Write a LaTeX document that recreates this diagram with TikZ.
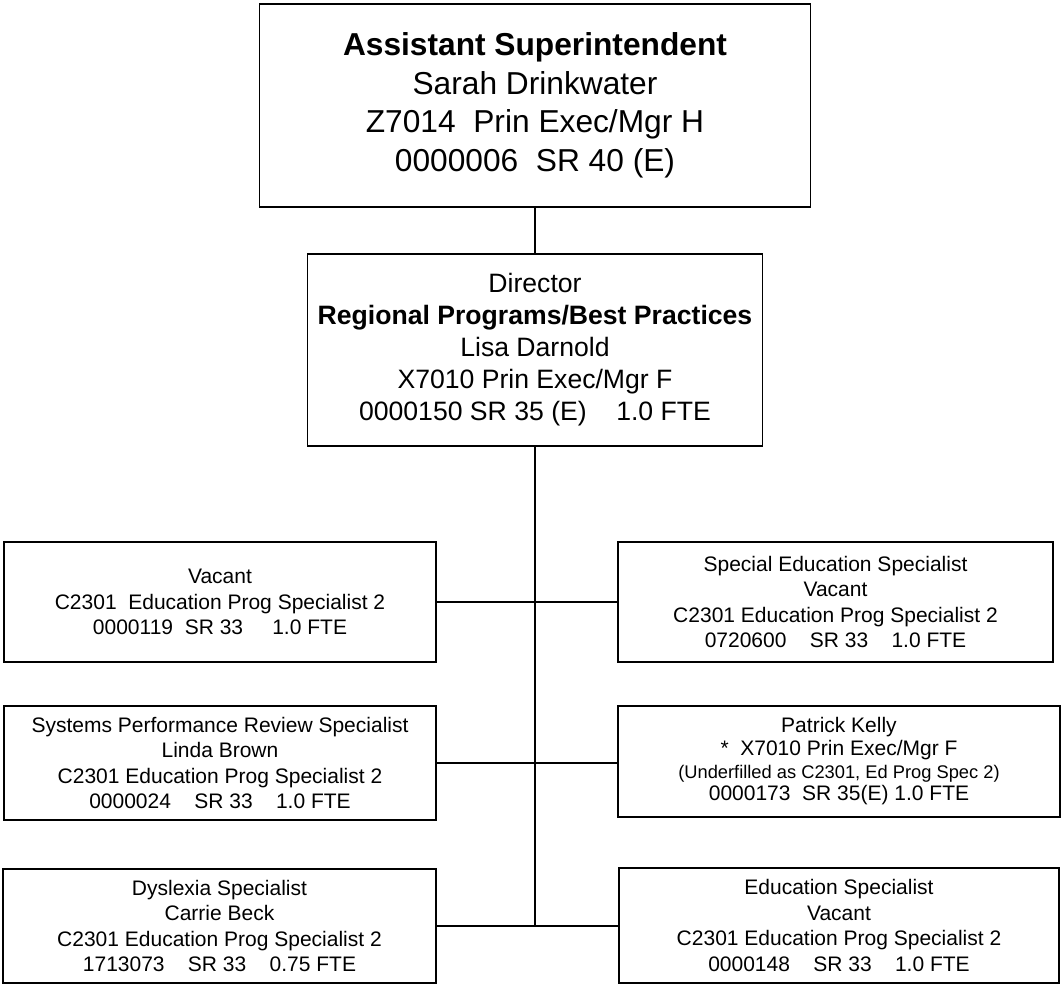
\documentclass[tikz,border=0pt]{standalone}
\usepackage{fontspec}
\setmainfont{Liberation Sans}
\usepackage{tikz}

\begin{document}
\begin{tikzpicture}[x=1pt,y=-1pt,
  post/.style={draw,line width=1.6pt,align=center,inner sep=0pt,
    font=\fontsize{21}{25.5}\selectfont},
  lead/.style={post,font=\fontsize{31.7}{38.5}\selectfont},
  dirbox/.style={post,font=\fontsize{26.6}{32}\selectfont},
  link/.style={line width=1.3pt}]
\useasboundingbox (0,0) rectangle (1061,985);
\node[lead,minimum width=551pt,minimum height=203pt] (super) at (535,105.5)
  {\textbf{Assistant Superintendent}\\Sarah Drinkwater\\Z7014~~Prin Exec/Mgr H\\0000006~~SR 40 (E)};
\node[dirbox,minimum width=455pt,minimum height=192pt] (dir) at (535,350)
  {Director\\\textbf{Regional Programs/Best Practices}\\Lisa Darnold\\X7010 Prin Exec/Mgr F\\0000150 SR 35 (E)~~~~1.0 FTE};

\node[post,minimum width=432pt,minimum height=120pt] (vac) at (220,602)
  {Vacant\\C2301~~Education Prog Specialist 2\\0000119~~SR 33~~~~~1.0 FTE};
\node[post,minimum width=435pt,minimum height=120pt] (sped) at (835.5,602)
  {Special Education Specialist\\Vacant\\C2301 Education Prog Specialist 2\\0720600~~~~SR 33~~~~1.0 FTE};
\node[post,minimum width=432pt,minimum height=114pt] (spr) at (220,763)
  {Systems Performance Review Specialist\\Linda Brown\\C2301 Education Prog Specialist 2\\0000024~~~~SR 33~~~~1.0 FTE};
\node[post,minimum width=442pt,minimum height=111pt,font=\fontsize{21}{22.7}\selectfont] (kelly) at (839,761.5)
  {Patrick Kelly\\*~~X7010 Prin Exec/Mgr F\\{\fontsize{18.3}{22.7}\selectfont (Underfilled as C2301, Ed Prog Spec 2)}\\0000173~~SR 35(E) 1.0 FTE};
\node[post,minimum width=433pt,minimum height=114pt] (dys) at (219.5,926)
  {Dyslexia Specialist\\Carrie Beck\\C2301 Education Prog Specialist 2\\1713073~~~~SR 33~~~~0.75 FTE};
\node[post,minimum width=440pt,minimum height=115pt] (edspec) at (839,925.5)
  {Education Specialist\\Vacant\\C2301 Education Prog Specialist 2\\0000148~~~~SR 33~~~~1.0 FTE};

% trunk and branches
\coordinate (bot) at (535,926);
\draw[link] (super) -- (dir);
\draw[link] (dir.south) -- (bot);
\draw[link] (vac.east) -- (sped.west);
\draw[link] (spr.east) -- (kelly.west |- spr.east);
\draw[link] (dys.east) -- (edspec.west |- dys.east);

\end{tikzpicture}
\end{document}
